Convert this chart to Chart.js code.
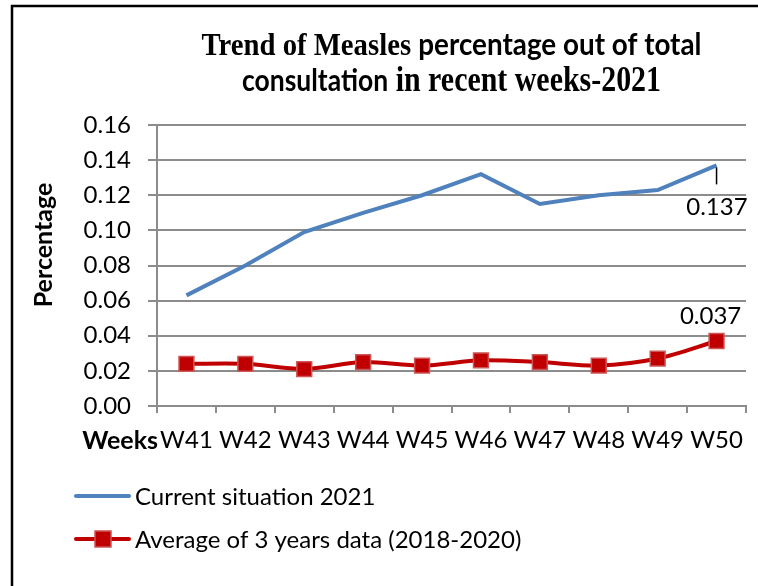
<!DOCTYPE html>
<html lang="en">
<head>
<meta charset="UTF-8">
<title>Trend of Measles</title>
<script src="https://cdn.jsdelivr.net/npm/chart.js"></script>
<style>
  html, body { margin: 0; padding: 0; background: #fff; }
  #wrap { width: 758px; height: 586px; }
</style>
</head>
<body>
<div id="wrap"><canvas id="grafico" width="758" height="586"></canvas></div>
<script>
// data
const weeks = ['W41', 'W42', 'W43', 'W44', 'W45', 'W46', 'W47', 'W48', 'W49', 'W50'];
const current2021 = [0.063, 0.080, 0.099, 0.110, 0.120, 0.132, 0.115, 0.120, 0.123, 0.137];
const avg3years = [0.024, 0.024, 0.021, 0.025, 0.023, 0.026, 0.025, 0.023, 0.027, 0.037];
const yTicks = [0, 0.02, 0.04, 0.06, 0.08, 0.10, 0.12, 0.14, 0.16];
const seriesNames = ['Current situation 2021', 'Average of 3 years data (2018-2020)'];

const BLUE = '#4f81bd';
const RED = '#c00000';
const GRID = '#8c8c8c';

// draws a line made of parts in different fonts, squeezed to a given width
function mixedLine(ctx, parts, cx, baseline, targetW) {
  let total = 0;
  parts.forEach(p => { ctx.font = p.font; p.w = ctx.measureText(p.text).width; total += p.w; });
  ctx.save();
  ctx.translate(cx - targetW / 2, baseline);
  ctx.scale(targetW / total, 1);
  ctx.textBaseline = 'alphabetic';
  ctx.textAlign = 'left';
  ctx.fillStyle = '#000';
  let x = 0;
  parts.forEach(p => { ctx.font = p.font; ctx.fillText(p.text, x, 0); x += p.w; });
  ctx.restore();
}

const decor = {
  id: 'decor',
  beforeDraw(chart) {
    const ctx = chart.ctx;
    ctx.save();
    ctx.fillStyle = '#fff';
    ctx.fillRect(0, 0, chart.width, chart.height);
    // frame (only top and left edges are visible)
    ctx.strokeStyle = '#000';
    ctx.lineWidth = 2.5;
    ctx.beginPath();
    ctx.moveTo(12, chart.height);
    ctx.lineTo(12, 6);
    ctx.lineTo(chart.width, 6);
    ctx.stroke();
    ctx.restore();
  },
  afterDraw(chart) {
    const ctx = chart.ctx;
    const area = chart.chartArea;
    const cx = (area.left + area.right) / 2;

    mixedLine(ctx, [
      { text: 'Trend of Measles ', font: 'bold 32px "Liberation Serif"' },
      { text: 'percentage out of total', font: 'bold 31px Lato' }
    ], cx, 55, 500);
    mixedLine(ctx, [
      { text: 'consultation', font: 'bold 31px Lato' },
      { text: ' in recent weeks-2021', font: 'bold 35px "Liberation Serif"' }
    ], cx, 91, 419);

    ctx.save();
    ctx.fillStyle = '#000';
    // y title
    ctx.font = 'bold 25px Lato';
    ctx.textAlign = 'center';
    ctx.textBaseline = 'middle';
    ctx.translate(44, 245);
    ctx.rotate(-Math.PI / 2);
    ctx.fillText('Percentage', 0, 0);
    ctx.restore();

    ctx.save();
    ctx.fillStyle = '#000';
    ctx.font = 'bold 25px Lato';
    ctx.textAlign = 'right';
    ctx.textBaseline = 'alphabetic';
    ctx.fillText('Weeks', area.left + 1, 449);

    // value labels on last points
    const pb = chart.getDatasetMeta(0).data[current2021.length - 1];
    const pr = chart.getDatasetMeta(1).data[avg3years.length - 1];
    ctx.strokeStyle = '#000';
    ctx.lineWidth = 1.5;
    ctx.beginPath();
    ctx.moveTo(pb.x, pb.y + 2);
    ctx.lineTo(pb.x, pb.y + 19);
    ctx.stroke();
    ctx.font = '24px Lato';
    ctx.textBaseline = 'middle';
    ctx.textAlign = 'right';
    ctx.fillText(current2021[current2021.length - 1].toFixed(3), pb.x + 31, pb.y + 42);
    ctx.textAlign = 'center';
    ctx.fillText(avg3years[avg3years.length - 1].toFixed(3), pr.x - 6, pr.y - 25);

    // legend
    ctx.lineCap = 'round';
    ctx.lineWidth = 4;
    ctx.strokeStyle = BLUE;
    ctx.beginPath(); ctx.moveTo(76, 496); ctx.lineTo(129, 496); ctx.stroke();
    ctx.strokeStyle = RED;
    ctx.beginPath(); ctx.moveTo(76, 539); ctx.lineTo(129, 539); ctx.stroke();
    ctx.fillStyle = RED;
    ctx.fillRect(95, 531, 16, 16);
    ctx.strokeStyle = '#cc5555';
    ctx.lineWidth = 1.5;
    ctx.strokeRect(95, 531, 16, 16);
    ctx.fillStyle = '#000';
    ctx.font = '24px Lato';
    ctx.textAlign = 'left';
    ctx.textBaseline = 'middle';
    ctx.fillText(seriesNames[0], 135, 497);
    ctx.fillText(seriesNames[1], 135, 540);
    ctx.restore();
  }
};

const grafico = new Chart(document.getElementById('grafico'), {
  type: 'line',
  data: {
    labels: weeks,
    datasets: [
      {
        label: seriesNames[0],
        data: current2021,
        borderColor: BLUE,
        borderWidth: 4,
        pointRadius: 0,
        tension: 0
      },
      {
        label: seriesNames[1],
        data: avg3years,
        borderColor: RED,
        borderWidth: 4,
        pointStyle: 'rect',
        pointRadius: 10.5,
        pointBackgroundColor: RED,
        pointBorderColor: '#cc5555',
        pointBorderWidth: 1.5,
        tension: 0.3
      }
    ]
  },
  options: {
    responsive: false,
    animation: false,
    layout: { padding: { left: 0, right: 9, top: 125, bottom: 120 } },
    plugins: {
      legend: { display: false },
      title: { display: false },
      tooltip: { enabled: false }
    },
    scales: {
      x: {
        offset: true,
        grid: { drawOnChartArea: false, color: GRID, lineWidth: 2, tickLength: 7, offset: true },
        border: { color: GRID, width: 2 },
        ticks: { color: '#000', font: { family: 'Lato', size: 24 }, padding: 13, maxRotation: 0, autoSkip: false },
        afterFit: s => { s.height = 60; }
      },
      y: {
        min: 0,
        max: 0.16,
        afterBuildTicks: s => { s.ticks = yTicks.map(v => ({ value: v })); },
        afterFit: s => { s.width = 157; },
        grid: { color: GRID, lineWidth: 2, tickLength: 9 },
        border: { color: GRID, width: 2 },
        ticks: { color: '#000', font: { family: 'Lato', size: 24 }, padding: 17, callback: v => v.toFixed(2) }
      }
    }
  },
  plugins: [decor]
});
</script>
</body>
</html>
